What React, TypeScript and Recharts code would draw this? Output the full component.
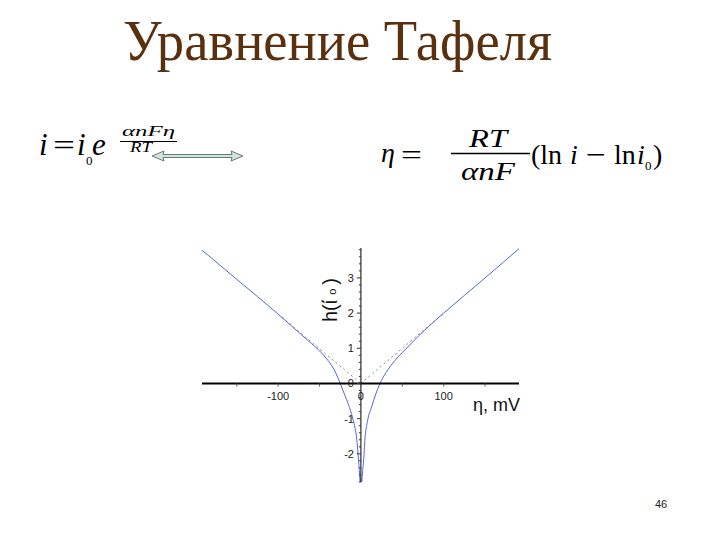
import { LineChart, Line, XAxis, YAxis, ReferenceLine, ReferenceDot } from "recharts";

// lg(i/i0) vs overpotential
const leftEta = [-192, -150, -100, -75, -60, -50, -40, -35, -30, -25, -20, -15, -10, -7, -5, -3.5, -2, -1];
const leftLg = [3.79, 2.96, 1.97, 1.45, 1.14, 0.93, 0.66, 0.5, 0.28, 0.0, -0.3, -0.6, -0.98, -1.28, -1.58, -2.0, -2.45, -2.8];
const rightEta = [1, 2, 3, 5, 8, 13, 18, 23, 30, 35, 40, 50, 60, 70, 80, 100, 150, 191];
const rightLg = [-2.8, -2.5, -2.27, -1.55, -1.06, -0.66, -0.3, 0.0, 0.3, 0.47, 0.62, 0.88, 1.12, 1.36, 1.58, 2.0, 3.0, 3.83];

// Tafel asymptotes (dotted)
const tafelLeftEta = [-100, 0];
const tafelLeftLg = [1.97, 0];
const tafelRightEta = [0, 100];
const tafelRightLg = [0, 2.0];

const xTickLabels = [-100, 0, 100];
const xMinorTicks = [-150, -50, 50, 150];
const yTickLabels = [-2, -1, 0, 1, 2, 3];
const yMinorTicks = [-2.8, -2.6, -2.4, -2.2, -1.8, -1.6, -1.4, -1.2, -0.8, -0.6, -0.4, -0.2,
  0.2, 0.4, 0.6, 0.8, 1.2, 1.4, 1.6, 1.8, 2.2, 2.4, 2.6, 2.8, 3.2, 3.4, 3.6, 3.8];

const toPoints = (xs: number[], ys: number[]) => xs.map((eta, i) => ({ eta, lg: ys[i] }));

const leftBranch = toPoints(leftEta, leftLg);
const rightBranch = toPoints(rightEta, rightLg);
const tafelLeft = toPoints(tafelLeftEta, tafelLeftLg);
const tafelRight = toPoints(tafelRightEta, tafelRightLg);

const BLUE = "#5468dc";
const sans = "'Liberation Sans', Arial, sans-serif";
const serif = "'Liberation Serif', 'Times New Roman', serif";

const xTickShape = (label: string | null) => (props: any) => (
  <g>
    <line x1={props.cx} y1={props.cy} x2={props.cx} y2={props.cy + 3} stroke="#555" strokeWidth={1} />
    {label !== null && (
      <text x={props.cx} y={props.cy + 17} textAnchor="middle" fontFamily={sans} fontSize={11} fill="#222">
        {label}
      </text>
    )}
  </g>
);

const yTickShape = (label: string | null) => (props: any) => (
  <g>
    <line x1={props.cx} y1={props.cy} x2={props.cx - (label !== null ? 4 : 2)} y2={props.cy} stroke="#333" strokeWidth={1} />
    {label !== null && (
      <text x={props.cx - 7} y={props.cy + 4} textAnchor="end" fontFamily={sans} fontSize={11} fill="#222">
        {label}
      </text>
    )}
  </g>
);

const TafelChart = () => (
  <LineChart width={340} height={250} margin={{ top: 8, right: 11, bottom: 8, left: 12 }}>
    <XAxis type="number" dataKey="eta" domain={[-192, 191]} allowDataOverflow hide />
    <YAxis type="number" dataKey="lg" domain={[-2.8, 3.85]} allowDataOverflow hide />
    <Line data={tafelLeft} dataKey="lg" type="linear" stroke="#8a8a80" strokeWidth={1} strokeDasharray="2 3" dot={false} isAnimationActive={false} />
    <Line data={tafelRight} dataKey="lg" type="linear" stroke="#8a8a80" strokeWidth={1} strokeDasharray="2 3" dot={false} isAnimationActive={false} />
    <Line data={leftBranch} dataKey="lg" type="monotone" stroke={BLUE} strokeWidth={1} dot={false} isAnimationActive={false} />
    <Line data={rightBranch} dataKey="lg" type="monotone" stroke={BLUE} strokeWidth={1} dot={false} isAnimationActive={false} />
    <ReferenceLine x={0} stroke="#000" strokeWidth={1} />
    <ReferenceLine y={0} stroke="#000" strokeWidth={2} />
    {xMinorTicks.map((v) => (
      <ReferenceDot key={"xm" + v} x={v} y={0} shape={xTickShape(null)} />
    ))}
    {xTickLabels.map((v) => (
      <ReferenceDot key={"xt" + v} x={v} y={0} shape={xTickShape(String(v))} />
    ))}
    {yMinorTicks.map((v) => (
      <ReferenceDot key={"ym" + v} x={0} y={v} shape={yTickShape(null)} />
    ))}
    {yTickLabels.map((v) => (
      <ReferenceDot key={"yt" + v} x={0} y={v} shape={yTickShape(String(v))} />
    ))}
  </LineChart>
);

const Arrow = () => (
  <polygon
    points="152,156 164,151 163,154.5 232,154.5 231,151 243,156 231,161 232,157.5 163,157.5 164,161"
    fill="#cfe6de"
    stroke="#6a7a78"
    strokeWidth={1}
  />
);

export default function App() {
  return (
    <div style={{ position: "fixed", left: 0, top: 0, width: 720, height: 540, background: "#fff", overflow: "hidden" }}>
      <svg width={720} height={540} style={{ position: "absolute", left: 0, top: 0 }}>
        <text x={123} y={60} fontFamily={serif} fontSize={58} fill="#5a300e" textLength={429} lengthAdjust="spacingAndGlyphs">
          Уравнение Тафеля
        </text>

        {/* i = i0 e^(αnFη/RT) */}
        <g fontFamily={serif} fill="#000">
          <text x={39} y={155} fontSize={31} fontStyle="italic">i</text>
          <text x={53} y={155} fontSize={30} textLength={22} lengthAdjust="spacingAndGlyphs">=</text>
          <text x={77} y={155} fontSize={31} fontStyle="italic">i</text>
          <text x={86} y={165} fontSize={13}>0</text>
          <text x={92} y={155} fontSize={31} fontStyle="italic">e</text>
          <text x={122} y={136} fontSize={14} fontStyle="italic" textLength={53} lengthAdjust="spacingAndGlyphs">αnFη</text>
          <line x1={120} y1={141.5} x2={177} y2={141.5} stroke="#000" strokeWidth={1} />
          <text x={130} y={152} fontSize={14} fontStyle="italic" textLength={22} lengthAdjust="spacingAndGlyphs">RT</text>
        </g>

        <Arrow />

        {/* η = RT/(αnF) (ln i − ln i0) */}
        <g fontFamily={serif} fill="#000">
          <text x={381} y={162} fontSize={28} fontStyle="italic">η</text>
          <text x={401} y={164} fontSize={28} textLength={21} lengthAdjust="spacingAndGlyphs">=</text>
          <text x={469} y={147} fontSize={26} fontStyle="italic" textLength={38} lengthAdjust="spacingAndGlyphs">RT</text>
          <line x1={451} y1={153.5} x2={530} y2={153.5} stroke="#000" strokeWidth={1.5} />
          <text x={461} y={180} fontSize={26} fontStyle="italic" textLength={54} lengthAdjust="spacingAndGlyphs">αnF</text>
          <text x={531} y={164} fontSize={28}>(ln</text>
          <text x={570} y={164} fontSize={28} fontStyle="italic">i</text>
          <text x={586} y={164} fontSize={28} textLength={20} lengthAdjust="spacingAndGlyphs">−</text>
          <text x={614} y={164} fontSize={28}>ln</text>
          <text x={637} y={164} fontSize={28} fontStyle="italic">i</text>
          <text x={645} y={170} fontSize={13}>0</text>
          <text x={653} y={164} fontSize={28}>)</text>
        </g>

        {/* axis titles */}
        <text x={337} y={322} transform="rotate(-90 337 322)" fontFamily={sans} fontSize={20} fill="#111">
          h(ί<tspan fontSize={11} dx={5} dy={-1}>o</tspan>
          <tspan fontSize={20} dx={4} dy={1}>)</tspan>
        </text>
        <text x={473} y={411} fontFamily={sans} fontSize={18} fill="#111">
          η, mV
        </text>

        <text x={661} y={508} textAnchor="middle" fontFamily={sans} fontSize={11} fill="#222">
          46
        </text>
      </svg>
      <div style={{ position: "absolute", left: 190, top: 240 }}>
        <TafelChart />
      </div>
    </div>
  );
}
